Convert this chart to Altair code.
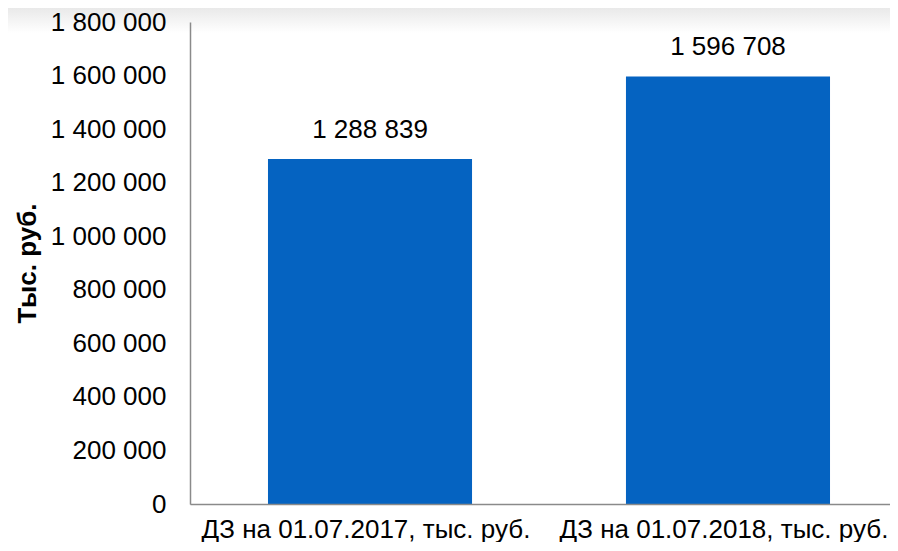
import altair as alt
import pandas as pd

categories = ["ДЗ на 01.07.2017, тыс. руб.", "ДЗ на 01.07.2018, тыс. руб."]
values = [1288839, 1596708]
y_ticks = [0, 200000, 400000, 600000, 800000, 1000000, 1200000, 1400000, 1600000, 1800000]

df = pd.DataFrame({"cat": categories, "val": values})

FONT = "Liberation Sans, Arial, sans-serif"
fmt = "replace(format({v}, ','), regexp(',', 'g'), ' ')"

base = alt.Chart(df)

bars = base.mark_bar(color="#0563C1", xOffset=9).encode(
    x=alt.X("cat:N", sort=categories,
            scale=alt.Scale(paddingInner=0.43, paddingOuter=0.1927),
            axis=alt.Axis(title=None, labelAngle=0, labelFontSize=26, labelFont=FONT,
                          labelColor="#000000", ticks=False, labelPadding=12, labelLimit=0,
                          labelOffset=5,
                          domainColor="#8a8a8a", domainWidth=1.5, zindex=1)),
    y=alt.Y("val:Q", scale=alt.Scale(domain=[0, 1800000], nice=False),
            axis=alt.Axis(title="Тыс. руб.", values=y_ticks, grid=False, ticks=False,
                          labelFontSize=26, labelFont=FONT, labelColor="#000000",
                          labelPadding=24, labelExpr=fmt.format(v="datum.value"),
                          titleFontSize=26, titleFont=FONT, titleFontWeight="bold",
                          titleColor="#000000", titleX=-163, titleBaseline="middle",
                          domainColor="#8a8a8a", domainWidth=1.5, zindex=1)),
)

text = base.transform_calculate(
    lbl=fmt.format(v="datum.val")
).mark_text(fontSize=26, font=FONT, color="#000000", baseline="middle",
            dy=-29, xOffset=9).encode(
    x=alt.X("cat:N", sort=categories),
    y="val:Q",
    text="lbl:N",
)

grad = alt.Chart(alt.Data(values=[{}])).mark_rect(
    color=alt.Gradient(gradient="linear",
                       stops=[alt.GradientStop(color="#e9e9e9", offset=0),
                              alt.GradientStop(color="#ffffff", offset=1)],
                       x1=0, x2=0, y1=0, y2=1)
).encode(x=alt.value(-182), x2=alt.value(700), y=alt.value(-14), y2=alt.value(11))

chart = alt.layer(grad, bars, text).properties(
    width=700, height=482,
    autosize=alt.AutoSizeParams(type="none"),
    padding={"left": 182, "top": 14, "right": 0, "bottom": 38},
).configure_view(stroke=None).configure(background="#ffffff")

chart.save("out.html", embed_options={"renderer": "svg", "actions": False})
